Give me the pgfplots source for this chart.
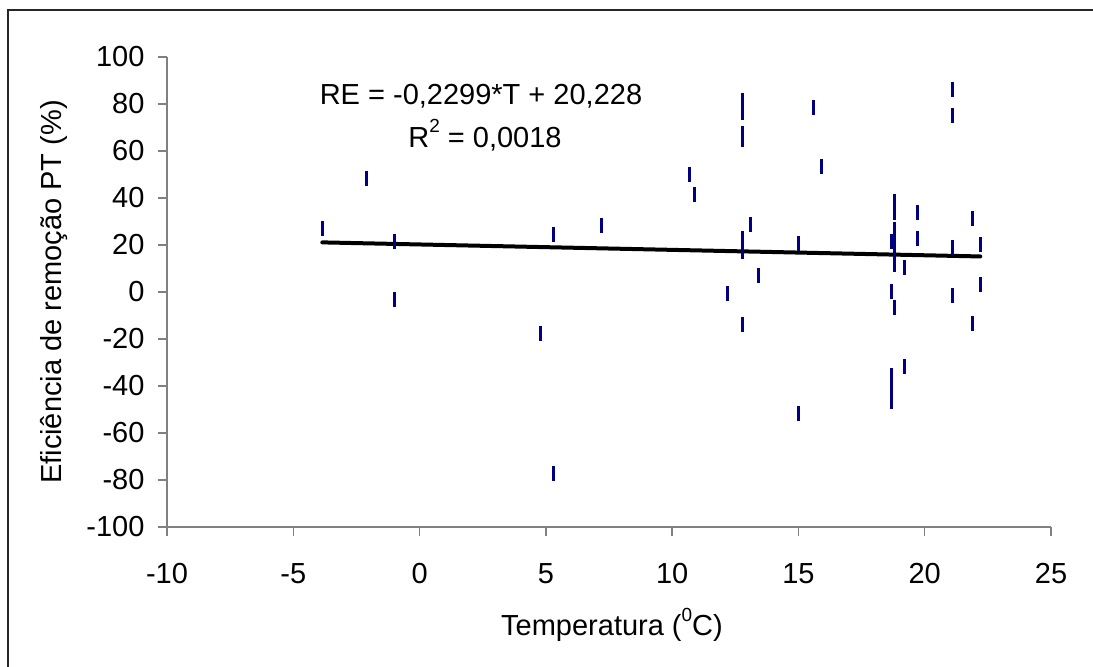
\documentclass[border=0pt]{standalone}
\usepackage{pgfplots}
\pgfplotsset{compat=1.18}
\usepackage{fontspec}
\setmainfont{Liberation Sans}
\definecolor{navyblue}{RGB}{0,0,128}
\definecolor{axgray}{RGB}{128,128,128}
\newcommand{\sups}[1]{\raisebox{0.5em}{\fontsize{19}{19}\selectfont #1}}
\begin{document}
\begin{tikzpicture}[x=1pt,y=1pt,font=\fontsize{29}{34}\selectfont]
\useasboundingbox (0,0) rectangle (1093,667);
\draw[line width=1.5pt,black!85] (8,-5) -- (8,657) -- (1100,657);
\begin{axis}[
  at={(167pt,140pt)}, anchor=south west,
  scale only axis, width=884pt, height=470pt,
  xmin=-10, xmax=25, ymin=-100, ymax=100,
  xtick={-10,-5,...,25}, ytick={-100,-80,...,100},
  axis x line*=bottom, axis y line*=left,
  axis line style={axgray, line width=1.5pt, -},
  tick style={axgray, line width=1.5pt},
  tick align=outside, major tick length=9pt,
  /pgf/number format/assume math mode=true,
  ticklabel style={font=\fontsize{29}{34}\selectfont},
  yticklabel style={xshift=-10pt},
  xticklabel style={yshift=-24pt},
  clip=false,
]
\addplot[navyblue, only marks, mark=|, mark size=7.5pt, mark options={line width=3pt}] coordinates {
(-3.85,27.2) (-2.1,48.5) (-1.0,21.5) (-1.0,-3.3) (4.8,-17.7) (5.3,24.3) (5.3,-77.3)
(7.2,28.5) (10.7,50.2) (10.9,41.6) (12.2,-0.7) (12.8,81.7) (12.8,76.3) (12.8,67.3)
(12.8,65.0) (12.8,22.7) (12.8,17.4) (12.8,-14) (13.1,28.7) (13.4,7.2) (15.0,20.6)
(15.0,-51.8) (15.6,78.3) (15.9,53.3) (18.8,38.3) (18.8,34.0) (18.8,26.8) (18.8,21.7)
(18.7,21.4) (18.8,15.3) (18.8,11.9) (19.2,10.4) (18.7,0) (18.8,-6.7) (18.7,-35.7)
(18.7,-40.9) (18.7,-46.4) (19.2,-31.8) (19.7,33.8) (19.7,22.7) (21.1,86) (21.1,75.3)
(21.1,19.1) (21.1,-1.6) (21.9,31.4) (21.9,-13.2) (22.2,20) (22.2,3.4)
};
\addplot[black, line width=4pt, line cap=round] coordinates {(-3.85,21.113) (22.2,15.124)};
\end{axis}
\node at (481,571) {RE = -0,2299*T + 20,228};
\node at (485,532) {R\sups{2} = 0,0018};
\node at (612,42) {Temperatura (\sups{0}C)};
\node[rotate=90] at (54,375) {Eficiência de remoção PT (\%)};
\end{tikzpicture}
\end{document}
